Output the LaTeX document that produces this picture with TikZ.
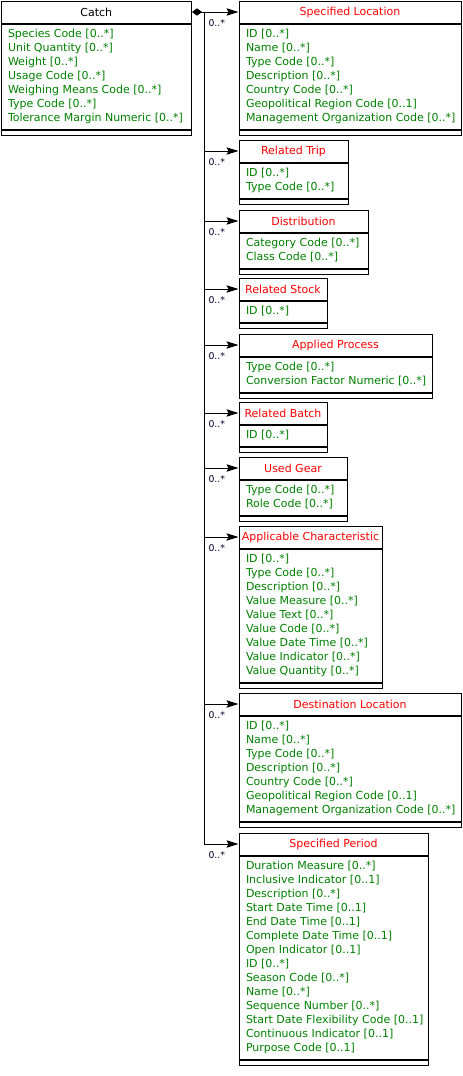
\documentclass[tikz,border=0pt]{standalone}
\usepackage{fontspec}
\setmainfont{DejaVu Sans}
\usetikzlibrary{arrows.meta,calc}
\definecolor{headcol}{RGB}{255,0,0}
\definecolor{attrcol}{RGB}{0,128,0}

\tikzset{
  clshead/.style={draw, anchor=north west, inner sep=0pt, minimum height=16.5pt,
    font=\fontsize{8.25}{10.5}\selectfont},
  clsbody/.style={draw, anchor=north west, inner sep=0pt},
  clstext/.style={anchor=west, inner sep=0pt, xshift=5.25pt, align=left,
    text=attrcol, font=\fontsize{8.25}{10.5}\selectfont},
  clsfoot/.style={draw, anchor=north west, inner sep=0pt, minimum height=3.75pt},
  assoc/.style={-{Stealth[length=9pt,width=5.5pt,inset=1.5pt,line width=0.75pt]}},
  mult/.style={anchor=north west, inner sep=0pt, xshift=3pt, yshift=-5pt,
    text=black!85!blue, font=\fontsize{7}{7}\selectfont}
}

% class box: title row, attribute rows, empty row
% [title colour]{name}{x}{y}{width}{rows}{title}{attributes}, all in px
\newcommand{\umlclass}[8][headcol]{%
  \pgfmathsetmacro{\clsw}{#5*0.75}%
  \pgfmathsetmacro{\clsh}{(14*#6+7)*0.75}%
  \node[clshead, text=#1, minimum width=\clsw pt] (#2) at (#3,#4) {#7};
  \node[clsbody, minimum width=\clsw pt, minimum height=\clsh pt] (#2-a) at (#2.south west) {};
  \node[clstext] (#2-t) at (#2-a.west) {#8};
  \node[clsfoot, minimum width=\clsw pt] (#2-f) at (#2-a.south west) {};
}

\begin{document}
\begin{tikzpicture}[x=0.75pt,y=-0.75pt,line width=0.75pt]
\useasboundingbox (0,0) rectangle (462,1076);

\umlclass[black]{catch}{0.5}{0.5}{190.5}{7}{Catch}{Species Code [0..*]\\Unit Quantity [0..*]\\Weight [0..*]\\Usage Code [0..*]\\Weighing Means Code [0..*]\\Type Code [0..*]\\Tolerance Margin Numeric [0..*]}
\umlclass{sloc}{238.5}{0.5}{222}{7}{Specified Location}{ID [0..*]\\Name [0..*]\\Type Code [0..*]\\Description [0..*]\\Country Code [0..*]\\Geopolitical Region Code [0..1]\\Management Organization Code [0..*]}
\umlclass{rtrip}{238.5}{139.5}{109}{2}{Related Trip}{ID [0..*]\\Type Code [0..*]}
\umlclass{distr}{238.5}{209.5}{129}{2}{Distribution}{Category Code [0..*]\\Class Code [0..*]}
\umlclass{rstock}{238.5}{277.5}{88}{1}{Related Stock}{ID [0..*]}
\umlclass{aproc}{238.5}{333.5}{193}{2}{Applied Process}{Type Code [0..*]\\Conversion Factor Numeric [0..*]}
\umlclass{rbatch}{238.5}{401.5}{88}{1}{Related Batch}{ID [0..*]}
\umlclass{gear}{238.5}{456.5}{108}{2}{Used Gear}{Type Code [0..*]\\Role Code [0..*]}
\umlclass{achar}{238.5}{525.5}{143}{9}{Applicable Characteristic}{ID [0..*]\\Type Code [0..*]\\Description [0..*]\\Value Measure [0..*]\\Value Text [0..*]\\Value Code [0..*]\\Value Date Time [0..*]\\Value Indicator [0..*]\\Value Quantity [0..*]}
\umlclass{dloc}{238.5}{692.5}{222}{7}{Destination Location}{ID [0..*]\\Name [0..*]\\Type Code [0..*]\\Description [0..*]\\Country Code [0..*]\\Geopolitical Region Code [0..1]\\Management Organization Code [0..*]}
\umlclass{speriod}{238.5}{832.5}{189}{14}{Specified Period}{Duration Measure [0..*]\\Inclusive Indicator [0..1]\\Description [0..*]\\Start Date Time [0..1]\\End Date Time [0..1]\\Complete Date Time [0..1]\\Open Indicator [0..1]\\ID [0..*]\\Season Code [0..*]\\Name [0..*]\\Sequence Number [0..*]\\Start Date Flexibility Code [0..1]\\Continuous Indicator [0..1]\\Purpose Code [0..1]}

% composition and the shared trunk
\coordinate (hub) at ($(catch.east)+(12,0)$);
\draw[{Diamond[length=7.5pt,width=5.5pt]}-] (catch.east) -- (hub);
\foreach \c in {sloc,rtrip,distr,rstock,aproc,rbatch,gear,achar,dloc,speriod}
  \draw[assoc] (hub) |- (\c.west) node[mult, pos=0.5] {0..*};
\end{tikzpicture}
\end{document}
